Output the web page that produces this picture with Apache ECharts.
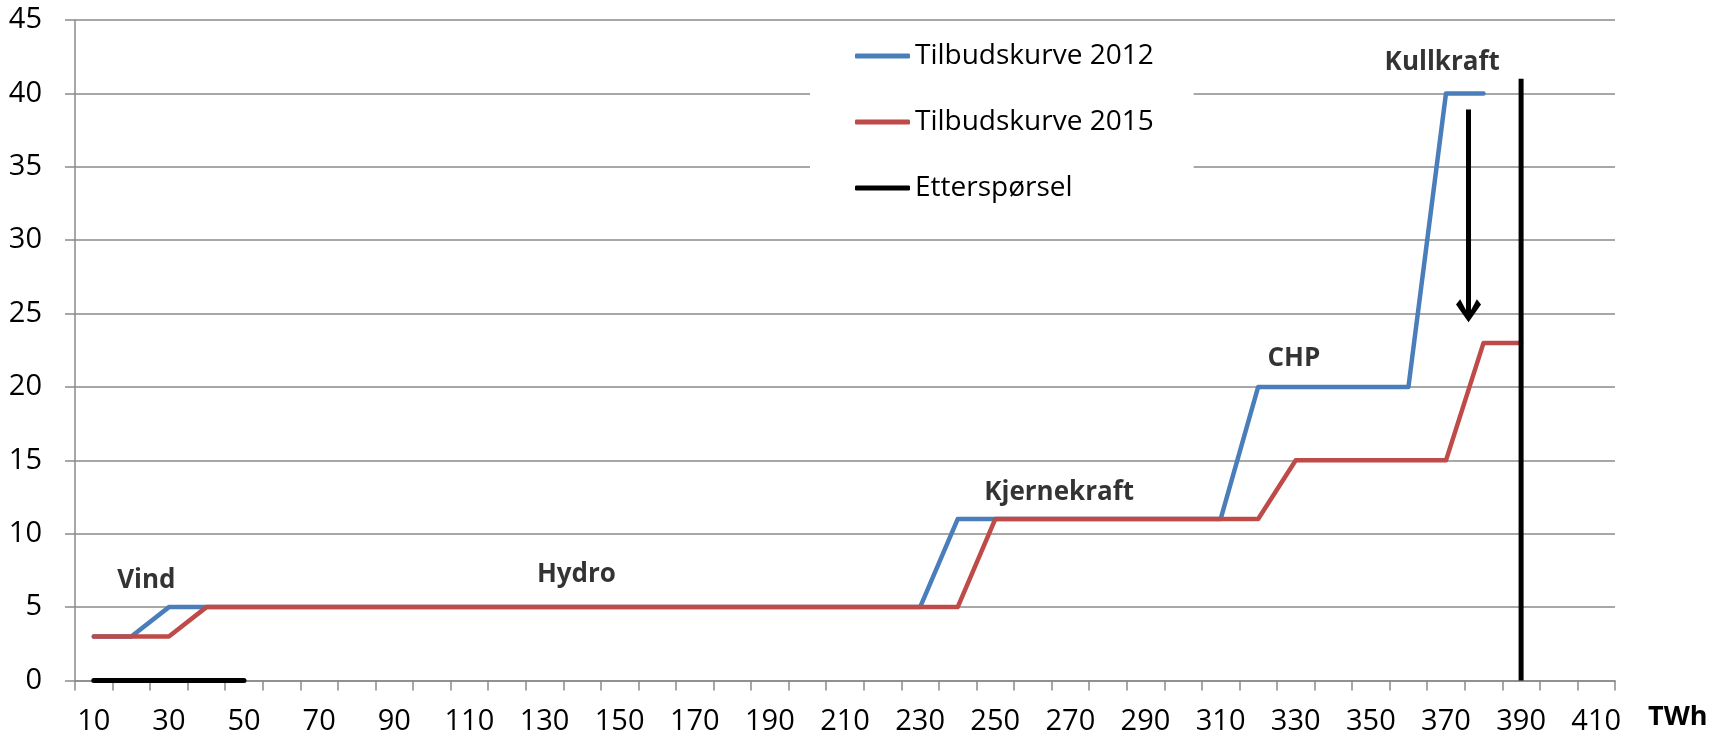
<!DOCTYPE html>
<html>
<head>
<meta charset="utf-8">
<script src="https://cdn.jsdelivr.net/npm/echarts@6/dist/echarts.min.js"></script>
<style>
  html, body { margin: 0; padding: 0; background: #fff; }
  #chart { width: 1727px; height: 737px; }
</style>
</head>
<body>
<div id="chart"></div>
<script>
// x categories (TWh)
const categories = [10, 20, 30, 40, 50, 60, 70, 80, 90, 100, 110, 120, 130, 140, 150, 160, 170, 180, 190, 200,
  210, 220, 230, 240, 250, 260, 270, 280, 290, 300, 310, 320, 330, 340, 350, 360, 370, 380, 390, 400, 410];

const supply2012 = [3, 3, 5, 5, 5, 5, 5, 5, 5, 5, 5, 5, 5, 5, 5, 5, 5, 5, 5, 5,
  5, 5, 5, 11, 11, 11, 11, 11, 11, 11, 11, 20, 20, 20, 20, 20, 40, 40, '-', '-', '-'];

const supply2015 = [3, 3, 3, 5, 5, 5, 5, 5, 5, 5, 5, 5, 5, 5, 5, 5, 5, 5, 5, 5,
  5, 5, 5, 5, 11, 11, 11, 11, 11, 11, 11, 11, 15, 15, 15, 15, 15, 23, 23, '-', '-'];

// demand: short flat piece at 0 and the vertical line at 390
const demandFlat = [[10, 0], [50, 0]];
const demandVertical = [[390, 0], [390, 41]];

// text labels on the chart
const labelNames = ['Vind', 'Hydro', 'Kjernekraft', 'CHP', 'Kullkraft'];
const labelX = [24, 138.5, 267, 329.5, 369];
const labelY = [6.8, 7.2, 12.8, 21.9, 42.1];

// arrow from 2012 coal price down to 2015
const arrowX = 376;
const arrowFrom = 38.9;
const arrowTo = 24.4;

const FONT = 'Open Sans';
const chart = echarts.init(document.getElementById('chart'));

const option = {
  animation: false,
  backgroundColor: '#fff',
  textStyle: { fontFamily: FONT },
  grid: { left: 75, right: 112, top: 20, bottom: 56.5, containLabel: false, outerBoundsMode: 'none' },
  legend: {
    orient: 'vertical',
    left: 810,
    top: 27,
    padding: [14, 40, 14, 45],
    backgroundColor: '#fff',
    icon: 'roundRect',
    itemWidth: 55,
    itemHeight: 5,
    itemGap: 36,
    data: ['Tilbudskurve 2012', 'Tilbudskurve 2015', 'Etterspørsel'],
    textStyle: { fontFamily: FONT, fontSize: 28, color: '#000', lineHeight: 30 }
  },
  xAxis: [
    {
      type: 'category',
      data: categories,
      boundaryGap: true,
      name: 'TWh',
      nameLocation: 'end',
      nameGap: 33,
      nameTextStyle: {
        fontFamily: FONT, fontSize: 27, fontWeight: 'bold', color: '#000',
        verticalAlign: 'top', lineHeight: 73
      },
      axisLine: { lineStyle: { color: '#8a8a8a', width: 1.5 } },
      axisTick: { show: true, interval: 0, length: 10, lineStyle: { color: '#8a8a8a', width: 1.5 } },
      axisLabel: { interval: 1, fontFamily: FONT, fontSize: 29, color: '#000', margin: 27 },
      splitLine: { show: false }
    },
    {
      type: 'value',
      min: 5,
      max: 415,
      show: false
    }
  ],
  yAxis: {
    type: 'value',
    min: 0,
    max: 45,
    interval: 5,
    axisLine: { show: true, lineStyle: { color: '#8a8a8a', width: 1.5 } },
    axisTick: { show: true, length: 10, lineStyle: { color: '#8a8a8a', width: 1.5 } },
    axisLabel: { fontFamily: FONT, fontSize: 29, color: '#000', margin: 33 },
    splitLine: { lineStyle: { color: '#8a8a8a', width: 1.5 } }
  },
  series: [
    {
      name: 'Tilbudskurve 2012',
      type: 'line',
      data: supply2012,
      showSymbol: false,
      symbol: 'none',
      color: '#4a7ebb',
      lineStyle: { color: '#4a7ebb', width: 4.5, cap: 'round', join: 'round' },
      z: 3
    },
    {
      name: 'Tilbudskurve 2015',
      type: 'line',
      data: supply2015,
      showSymbol: false,
      symbol: 'none',
      color: '#be4b48',
      lineStyle: { color: '#be4b48', width: 4.5, cap: 'round', join: 'round' },
      z: 4
    },
    {
      name: 'Etterspørsel',
      type: 'line',
      xAxisIndex: 1,
      data: demandFlat,
      showSymbol: false,
      symbol: 'none',
      color: '#000',
      lineStyle: { color: '#000', width: 5, cap: 'round' },
      z: 5
    },
    {
      name: 'Etterspørsel',
      type: 'line',
      xAxisIndex: 1,
      data: demandVertical,
      showSymbol: false,
      symbol: 'none',
      color: '#000',
      lineStyle: { color: '#000', width: 5 },
      z: 5
    },
    {
      name: 'labels',
      type: 'scatter',
      xAxisIndex: 1,
      symbolSize: 0,
      silent: true,
      data: labelNames.map((n, i) => ({ name: n, value: [labelX[i], labelY[i]] })),
      label: {
        show: true,
        position: 'inside',
        formatter: p => p.name,
        fontFamily: FONT,
        fontSize: 26,
        fontWeight: 'bold',
        color: '#000'
      },
      markLine: {
        silent: true,
        symbol: ['none', 'none'],
        label: { show: false },
        lineStyle: { color: '#000', width: 5, type: 'solid' },
        data: [[{ coord: [arrowX, arrowFrom] }, { coord: [arrowX, arrowTo + 0.3] }]]
      },
      markPoint: {
        silent: true,
        symbol: 'path://M0,4 L4,0 L12,12 L20,0 L24,4 L12,18 Z',
        symbolSize: [25, 23],
        symbolOffset: [0, -11.5],
        itemStyle: { color: '#000' },
        label: { show: false },
        data: [{ coord: [arrowX, arrowTo] }]
      },
      z: 6
    }
  ]
};

chart.setOption(option);
</script>
</body>
</html>
